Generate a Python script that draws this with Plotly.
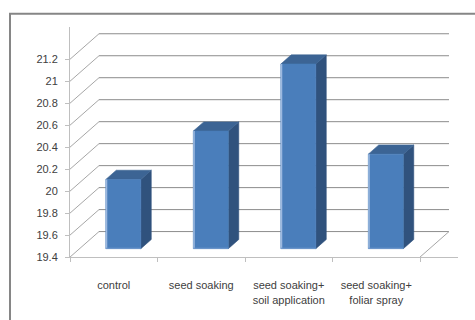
import plotly.graph_objects as go

# ---------------- data ----------------
categories = ["control", "seed soaking", "seed soaking+<br>soil application", "seed soaking+<br>foliar spray"]
values = [20.03, 20.47, 21.08, 20.26]
y_ticks = [19.4, 19.6, 19.8, 20.0, 20.2, 20.4, 20.6, 20.8, 21.0, 21.2]
y_tick_labels = ["19.4", "19.6", "19.8", "20", "20.2", "20.4", "20.6", "20.8", "21", "21.2"]

# ---------------- geometry / style ----------------
W, H = 475, 320
AX_L, AX_B = 70, 262          # pixel position of front axes corner
PX_CAT, PX_VAL = 87.5, 112.0  # pixels per category / per value unit
DOM_R, DOM_T = 458, 28
DEPTH_X_PX, DEPTH_Y_PX = 29, 26
ymin = y_ticks[0]
dxd = DEPTH_X_PX / PX_CAT
dyd = DEPTH_Y_PX / PX_VAL
front_depth = 0.33
bar_depth = 0.36
half_w = 0.2

C_FRONT, C_TOP, C_SIDE, C_HI, C_HI2 = "#4A7EBB", "#3C6494", "#30527D", "#9DB9E0", "#6E98CC"
C_GRID, C_WALL, C_AXIS = "#8C8C8C", "#A6A6A6", "#BFBFBF"
TXT = "#404040"

fig = go.Figure()

def line(xs, ys, color, width=1):
    fig.add_trace(go.Scatter(x=xs, y=ys, mode="lines", line=dict(color=color, width=width),
                             hoverinfo="skip", showlegend=False))

def poly(xs, ys, color):
    fig.add_trace(go.Scatter(x=xs + [xs[0]], y=ys + [ys[0]], mode="lines", fill="toself",
                             fillcolor=color, line=dict(color=color, width=0.6),
                             hoverinfo="skip", showlegend=False))

n = len(categories)
# back wall gridlines and left wall diagonals
for v in y_ticks:
    line([dxd, n + dxd], [v + dyd, v + dyd], C_GRID)
    line([0, dxd], [v, v + dyd], C_WALL)
# floor right edge
line([n, n + dxd], [ymin, ymin + dyd], C_WALL)

# 3D bars
ox, oy = bar_depth * dxd, bar_depth * dyd
for i, v in enumerate(values):
    c = i + 0.5
    x0 = c - half_w + front_depth * dxd
    x1 = c + half_w + front_depth * dxd
    yb = ymin + front_depth * dyd
    yt = v + front_depth * dyd
    poly([x1, x1 + ox, x1 + ox, x1], [yb, yb + oy, yt + oy, yt], C_SIDE)
    poly([x0, x1, x1 + ox, x0 + ox], [yt, yt, yt + oy, yt + oy], C_TOP)
    poly([x0, x1, x1, x0], [yb, yb, yt, yt], C_FRONT)
    line([x0 + 0.008, x0 + 0.008], [yt, yb], C_HI, 1.5)
    line([x0, x1], [yb + 0.004, yb + 0.004], C_HI2, 1)

fig.update_layout(
    width=W, height=H,
    margin=dict(l=0, r=0, t=0, b=0),
    paper_bgcolor="white", plot_bgcolor="white",
    showlegend=False, hovermode=False,
    font=dict(family="Liberation Sans, Arial, sans-serif", size=11, color=TXT),
    xaxis=dict(
        domain=[AX_L / W, DOM_R / W],
        range=[0, (DOM_R - AX_L) / PX_CAT],
        showgrid=False, zeroline=False,
        showline=True, linecolor=C_AXIS, linewidth=1,
        tickmode="array", tickvals=[i + 0.5 for i in range(n)], ticktext=categories,
        ticks="", ticklabelstandoff=18,
        minor=dict(tickvals=list(range(n + 1)), ticks="outside", ticklen=4,
                   tickcolor=C_AXIS, showgrid=False),
        tickfont=dict(size=11, color=TXT),
        fixedrange=True,
    ),
    yaxis=dict(
        domain=[(H - AX_B) / H, (H - DOM_T) / H],
        range=[ymin, ymin + (AX_B - DOM_T) / PX_VAL],
        showgrid=False, zeroline=False,
        showline=True, linecolor=C_AXIS, linewidth=1,
        tickmode="array", tickvals=y_ticks, ticktext=y_tick_labels,
        ticks="outside", ticklen=4, tickcolor=C_AXIS, ticklabelstandoff=5,
        tickfont=dict(size=11, color=TXT),
        fixedrange=True,
    ),
    shapes=[dict(type="rect", xref="paper", yref="paper",
                 x0=10 / W, x1=1.05, y0=-0.05, y1=1 - 14 / H,
                 line=dict(color="#868686", width=2), fillcolor="rgba(0,0,0,0)")],
)

fig.write_html("out.html")
